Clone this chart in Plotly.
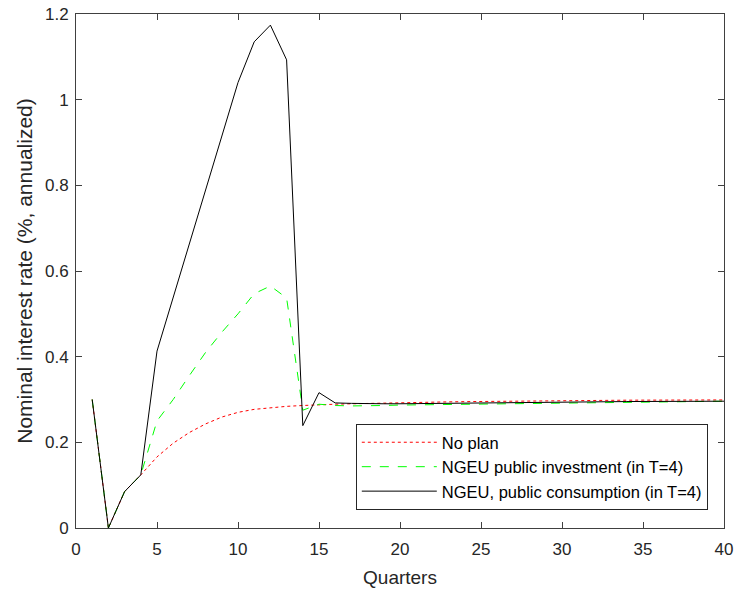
import plotly.graph_objects as go

quarters = list(range(1, 41))

no_plan = [0.300, 0.000, 0.085, 0.124, 0.166, 0.198, 0.223, 0.243, 0.259, 0.270,
           0.277, 0.281, 0.284, 0.286, 0.288, 0.289, 0.290, 0.291, 0.292, 0.293,
           0.2935, 0.294, 0.2945, 0.295, 0.2955, 0.296, 0.2965, 0.297, 0.2972, 0.2975,
           0.2977, 0.298, 0.2982, 0.2984, 0.2985, 0.2986, 0.2987, 0.2988, 0.2989, 0.299]

ngeu_inv = [0.300, 0.000, 0.085, 0.124, 0.250, 0.300, 0.356, 0.410, 0.457, 0.500,
            0.547, 0.565, 0.537, 0.275, 0.289, 0.286, 0.285, 0.285, 0.286, 0.287,
            0.2875, 0.288, 0.2885, 0.289, 0.2895, 0.290, 0.2905, 0.291, 0.2915, 0.292,
            0.2925, 0.293, 0.2935, 0.294, 0.2943, 0.2946, 0.295, 0.2953, 0.2956, 0.296]

ngeu_cons = [0.300, 0.000, 0.085, 0.124, 0.413, 0.538, 0.665, 0.790, 0.915, 1.040,
             1.135, 1.174, 1.093, 0.239, 0.316, 0.292, 0.291, 0.290, 0.290, 0.290,
             0.2905, 0.291, 0.2915, 0.292, 0.2923, 0.2926, 0.293, 0.2933, 0.2936, 0.294,
             0.2943, 0.2946, 0.295, 0.2952, 0.2954, 0.2956, 0.2958, 0.296, 0.296, 0.296]

x_ticks = [0, 5, 10, 15, 20, 25, 30, 35, 40]
y_ticks = [0, 0.2, 0.4, 0.6, 0.8, 1.0, 1.2]
y_tick_labels = ["0", "0.2", "0.4", "0.6", "0.8", "1", "1.2"]

fig = go.Figure()
fig.add_trace(go.Scatter(x=quarters, y=no_plan, mode="lines", name="No plan",
                         line=dict(color="#ff0000", width=1, dash="dot")))
fig.add_trace(go.Scatter(x=quarters, y=ngeu_inv, mode="lines",
                         name="NGEU public investment (in T=4)",
                         line=dict(color="#00ff00", width=1, dash="dash")))
fig.add_trace(go.Scatter(x=quarters, y=ngeu_cons, mode="lines",
                         name="NGEU, public consumption (in T=4)",
                         line=dict(color="#000000", width=1)))

axis_common = dict(showgrid=False, zeroline=False, showline=True, linecolor="#404040",
                   linewidth=1, mirror="ticks", ticks="inside", ticklen=6,
                   tickcolor="#404040", tickfont=dict(size=17, color="#262626"),
                   automargin=False)

fig.update_layout(
    width=737, height=589,
    margin=dict(l=76, r=13, t=14, b=61),
    paper_bgcolor="white", plot_bgcolor="white",
    font=dict(family="Liberation Sans, Arial, sans-serif", color="#262626"),
    xaxis=dict(range=[0, 40], tickvals=x_ticks, ticklabelstandoff=6,
               title=dict(text="Quarters", font=dict(size=19), standoff=12), **axis_common),
    yaxis=dict(range=[0, 1.2], tickvals=y_ticks, ticktext=y_tick_labels, ticklabelstandoff=3,
               title=dict(text="Nominal interest rate (%, annualized)", font=dict(size=21), standoff=6),
               **axis_common),
    legend=dict(x=0.975, y=0.035, xanchor="right", yanchor="bottom",
                bgcolor="white", bordercolor="#262626", borderwidth=1,
                font=dict(size=16.5, color="#000000"), tracegroupgap=0, itemwidth=75),
    showlegend=True,
)

fig.write_html("out.html", config={"displayModeBar": False},
               post_script="document.body.style.margin='0';document.body.style.padding='0';")
